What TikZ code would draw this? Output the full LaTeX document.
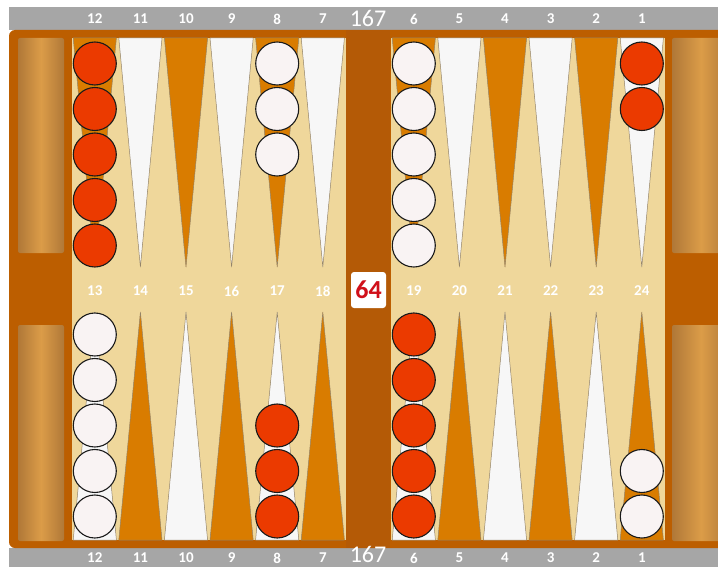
\documentclass[tikz,border=0pt]{standalone}
\usepackage{fontspec}
\setmainfont{Carlito}
\usepackage{xcolor}
\definecolor{rimgray}{HTML}{A6A6A6}
\definecolor{boardframe}{HTML}{BC5E00}
\definecolor{barbrown}{HTML}{B45A06}
\definecolor{felt}{HTML}{EFD79B}
\definecolor{pointorange}{HTML}{D97C00}
\definecolor{pointwhite}{HTML}{F7F7F7}
\definecolor{pointedge}{HTML}{948468}
\definecolor{checkerred}{HTML}{EB3A00}
\definecolor{checkerwhite}{HTML}{F9F3F3}
\definecolor{checkeredge}{HTML}{1A1A1A}
\definecolor{traylight}{HTML}{DB9C48}
\definecolor{traydark}{HTML}{B07838}
\definecolor{cubered}{HTML}{D0101A}
\usepackage{tikz}
\usetikzlibrary{positioning}

\begin{document}
\begin{tikzpicture}[
  x=1pt, y=-1pt,
  ptnum/.style={font=\bfseries\fontsize{15}{15}\selectfont, text=white},
  pipnum/.style={font=\fontsize{24}{24}\selectfont, text=white, inner sep=0pt},
  checker/.style={circle, draw=checkeredge, line width=1.1pt, minimum size=43pt, inner sep=0pt},
  redck/.style={checker, fill=checkerred},
  whiteck/.style={checker, fill=checkerwhite},
  tray/.style={left color=traydark, right color=traydark, middle color=traylight, rounded corners=2pt},
  pointtri/.style={draw=pointedge, line width=0.5pt, line join=round},
  cube/.style={fill=white, rounded corners=3pt, minimum width=35pt, minimum height=36pt,
    inner sep=0pt, text=cubered, font=\bfseries\fontsize{26}{26}\selectfont}
]
\useasboundingbox (0,0) rectangle (718,567);
\clip (0,0) rectangle (718,567);
\fill[white] (0,0) rectangle (718,567);

% rims and frame
\fill[rimgray] (9,7) rectangle (718,30);
\fill[rimgray] (9,548) rectangle (718,567);
\fill[boardframe, rounded corners=6pt] (9,30) rectangle (740,548);
\fill[barbrown] (346,30) rectangle (390,548);

% trays
\path[tray] (18,38) rectangle (64,253);
\path[tray] (18,325) rectangle (64,541);
\path[tray] (672,38) rectangle (730,253);
\path[tray] (672,325) rectangle (730,541);

% playing fields
\fill[felt] (72,38) rectangle (345.6,540);
\fill[felt] (391,38) rectangle (664.6,540);

% points and numbers
\foreach \c in {0,...,5} {
  \pgfmathsetmacro\xa{72+45.6*\c}
  \pgfmathsetmacro\xb{391+45.6*\c}
  \pgfmathtruncatemacro\pa{12-\c}
  \pgfmathtruncatemacro\pb{6-\c}
  \pgfmathtruncatemacro\pc{13+\c}
  \pgfmathtruncatemacro\pd{19+\c}
  \ifodd\c \def\tc{pointwhite}\def\bc{pointorange}\else \def\tc{pointorange}\def\bc{pointwhite}\fi
  \foreach \x in {\xa,\xb} {
    \draw[pointtri, fill=\tc] (\x+1.2,38) -- (\x+44.4,38) -- (\x+22.8,267) -- cycle;
    \draw[pointtri, fill=\bc] (\x+1.2,540) -- (\x+44.4,540) -- (\x+22.8,312) -- cycle;
  }
  \node[ptnum] (t\pa) at (\xa+22.8,19) {\pa};
  \node[ptnum] (t\pb) at (\xb+22.8,19) {\pb};
  \node[ptnum] (m\pc) at (\xa+22.8,291) {\pc};
  \node[ptnum] (m\pd) at (\xb+22.8,291) {\pd};
  \node[ptnum] (b\pa) at (\xa+22.8,558) {\pa};
  \node[ptnum] (b\pb) at (\xb+22.8,558) {\pb};
}

% checkers, top half
\foreach \k in {1,...,5} \node[redck] (p12c\k) at (94.8,{18+45.5*\k}) {};
\foreach \k in {1,...,3} \node[whiteck] (p8c\k) at (277.2,{18+45.5*\k}) {};
\foreach \k in {1,...,5} \node[whiteck] (p6c\k) at (413.8,{18+45.5*\k}) {};
\foreach \k in {1,2} \node[redck] (p1c\k) at (641.8,{18+45.5*\k}) {};

% checkers, bottom half
\foreach \k in {1,...,5} \node[whiteck] (p13c\k) at (94.8,{562-45.5*\k}) {};
\foreach \k in {1,...,3} \node[redck] (p17c\k) at (277.2,{562-45.5*\k}) {};
\foreach \k in {1,...,5} \node[redck] (p19c\k) at (413.8,{562-45.5*\k}) {};
\foreach \k in {1,2} \node[whiteck] (p24c\k) at (641.8,{562-45.5*\k}) {};

% cube and pip counts
\node[cube] (cube) at (368.5,290) {64};
\node[pipnum] (piptop) at (368,18) {167};
\node[pipnum] (pipbot) at (368,554) {167};

\end{tikzpicture}
\end{document}
